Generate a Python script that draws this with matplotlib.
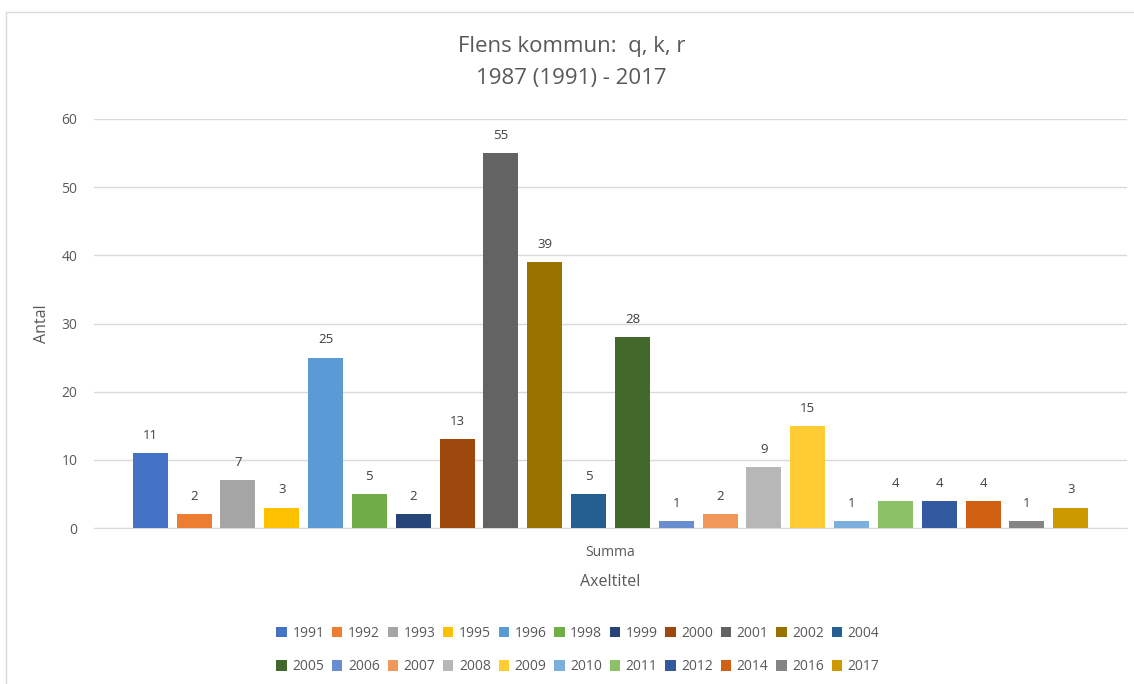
import matplotlib
matplotlib.use("Agg")
import matplotlib.pyplot as plt
from matplotlib.patches import Rectangle, Patch

years = ["1991", "1992", "1993", "1995", "1996", "1998", "1999", "2000", "2001", "2002", "2004",
         "2005", "2006", "2007", "2008", "2009", "2010", "2011", "2012", "2014", "2016", "2017"]
values = [11, 2, 7, 3, 25, 5, 2, 13, 55, 39, 5, 28, 1, 2, 9, 15, 1, 4, 4, 4, 1, 3]
colors = ["#4472C4", "#ED7D31", "#A5A5A5", "#FFC000", "#5B9BD5", "#70AD47",
          "#264478", "#9E480E", "#636363", "#997300", "#255E91", "#43682B",
          "#698ED0", "#F1975A", "#B7B7B7", "#FFCD33", "#7CAFDD", "#8CC168",
          "#335AA1", "#D26012", "#848484", "#CC9A00"]
category = "Summa"
title = "Flens kommun:  q, k, r\n1987 (1991) - 2017"

plt.rcParams['font.family'] = ['Open Sans', 'DejaVu Sans']

W, H = 1134, 684
fig = plt.figure(figsize=(W / 100, H / 100), dpi=100)
fig.patch.set_facecolor("white")

# outer chart border
fig.add_artist(Rectangle((6 / W, -0.05), 1.2, 1 - 12 / H + 0.05, transform=fig.transFigure,
                         fill=False, edgecolor="#D9D9D9", linewidth=1.0))

ax = fig.add_axes([94 / W, 156 / H, (1127 - 94) / W, (528 - 119) / H])
n = len(values)
x = list(range(n))
ax.bar(x, values, width=0.8, color=colors, zorder=3)
for xi, v in zip(x, values):
    ax.annotate(str(v), (xi, v), xytext=(0, 8), textcoords="offset points",
                ha="center", va="bottom", fontsize=9.5, color="#404040")

half = (1127 - 94) / 2 / ((1069 - 148.5) / 21)
mid = (n - 1) / 2
ax.set_xlim(mid - half, mid + half)
ax.set_ylim(0, 60)
ax.set_yticks(range(0, 61, 10))
ax.yaxis.grid(True, color="#D9D9D9", linewidth=1, zorder=0)
for s in ["top", "right", "left"]:
    ax.spines[s].set_visible(False)
ax.spines["bottom"].set_color("#D9D9D9")
ax.tick_params(axis="both", length=0, colors="#595959", labelsize=10)
ax.tick_params(axis="y", pad=12)
ax.set_xticks([mid])
ax.set_xticklabels([category])
ax.tick_params(axis="x", pad=12)
ax.set_xlabel("Axeltitel", fontsize=11.5, color="#595959", labelpad=10)
ax.set_ylabel("Antal", fontsize=11.5, color="#595959", labelpad=8)

fig.text(0.504, 1 - 62.5 / H, title, ha="center", va="center", fontsize=16, color="#595959",
         linespacing=1.65)

ncol = 11
nrow = (n + ncol - 1) // ncol
order = [r * ncol + c for c in range(ncol) for r in range(nrow) if r * ncol + c < n]
handles = [Patch(facecolor=colors[i], edgecolor="none") for i in order]
labels = [years[i] for i in order]
fig.legend(handles, labels, loc="center", bbox_to_anchor=(578 / W, 1 - 650 / H), ncol=ncol,
           frameon=False, fontsize=10, handlelength=0.75, handleheight=0.75, handletextpad=0.4,
           columnspacing=0.55, labelspacing=1.35, labelcolor="#595959")

fig.savefig("out.png", dpi=100, facecolor="white")
